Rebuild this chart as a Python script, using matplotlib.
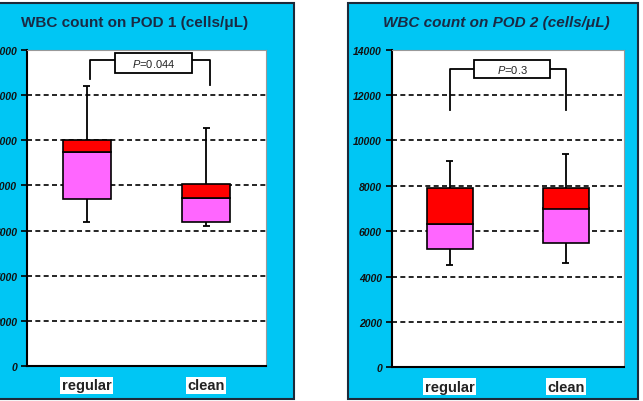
import matplotlib
matplotlib.use("Agg")
import matplotlib.pyplot as plt
from matplotlib.patches import Rectangle

plt.rcParams['font.family'] = ['Liberation Sans', 'DejaVu Sans']
plt.rcParams['mathtext.fontset'] = 'custom'
plt.rcParams['mathtext.it'] = 'Liberation Sans:italic'
plt.rcParams['mathtext.rm'] = 'Liberation Sans'

categories = ["regular", "clean"]
yticks = [0, 2000, 4000, 6000, 8000, 10000, 12000, 14000]

# POD 1
pod1_low = [6400, 6200]
pod1_q1 = [7400, 6400]
pod1_med = [9500, 7450]
pod1_q3 = [10000, 8050]
pod1_high = [12400, 10550]
pod1_p = "0.044"

# POD 2
pod2_low = [4500, 4600]
pod2_q1 = [5200, 5500]
pod2_med = [6300, 7000]
pod2_q3 = [7900, 7900]
pod2_high = [9100, 9400]
pod2_p = "0.3"

CYAN = '#00C6F4'
BORDER = '#1c2a3a'
MAG = '#FF66FF'
RED = '#FF0000'
TITLE_C = '#1a2a44'

W, H = 643, 402
fig = plt.figure(figsize=(W / 100, H / 100), dpi=100)
fig.patch.set_facecolor('white')


def px(x0, y0, x1, y1):
    return [x0 / W, 1 - y1 / H, (x1 - x0) / W, (y1 - y0) / H]


# cyan panels
for (x0, x1) in [(-3, 293.5), (348, 638)]:
    r = px(x0, 4, x1, 400)
    fig.patches.append(Rectangle((r[0], r[1]), r[2], r[3], transform=fig.transFigure,
                                 facecolor=CYAN, edgecolor=BORDER, lw=1.5, zorder=-5))


def panel(rect, title, title_x, italic_title, low, q1, med, q3, high, ptxt,
          legs, leg_bottoms, bracket_top, pbox):
    ax = fig.add_axes(px(*rect))
    ax.set_zorder(5)
    ax.set_facecolor('white')
    pos = list(range(len(categories)))
    ax.set_xlim(-0.5, 1.5)
    ax.set_ylim(0, 14000)
    ax.set_yticks(yticks)
    ax.set_yticklabels([str(v) for v in yticks], fontsize=7.5, fontweight='bold',
                       fontstyle='italic', color='#111111')
    ax.set_xticks(pos)
    ax.set_xticklabels(categories, fontsize=10.5, fontweight='bold', color='#222222')
    for lab in ax.get_xticklabels():
        lab.set_bbox(dict(facecolor='white', edgecolor='none', pad=1))
    ax.tick_params(axis='x', length=0, pad=9)
    ax.tick_params(axis='y', length=4, width=1.2, pad=3, direction='out')
    for s in ['top', 'right']:
        ax.spines[s].set_color('#999999')
        ax.spines[s].set_linewidth(0.8)
    for s in ['left', 'bottom']:
        ax.spines[s].set_color('black')
        ax.spines[s].set_linewidth(1.5)
    for v in yticks[1:-1]:
        ax.axhline(v, color='black', lw=1.2, ls=(0, (3, 2)), zorder=1)
    width = 0.4
    lowers = [m - a for m, a in zip(med, q1)]
    uppers = [b - m for m, b in zip(med, q3)]
    ax.bar(pos, lowers, bottom=q1, width=width, color=MAG, edgecolor='black', lw=1.2, zorder=3)
    ax.bar(pos, uppers, bottom=med, width=width, color=RED, edgecolor='black', lw=1.2, zorder=3)
    ax.vlines(pos, q3, high, color='black', lw=1.3, zorder=2)
    ax.vlines(pos, low, q1, color='black', lw=1.3, zorder=2)
    ax.hlines(high, [p - 0.03 for p in pos], [p + 0.03 for p in pos], color='black', lw=1.3, zorder=2)
    ax.hlines(low, [p - 0.03 for p in pos], [p + 0.03 for p in pos], color='black', lw=1.3, zorder=2)
    # bracket
    ax.plot([legs[0], legs[0], legs[1], legs[1]],
            [leg_bottoms[0], bracket_top, bracket_top, leg_bottoms[1]],
            color='black', lw=1.3, zorder=4, clip_on=False)
    bx0, bx1, by0, by1 = pbox
    ax.add_patch(Rectangle((bx0, by0), bx1 - bx0, by1 - by0, facecolor='white',
                           edgecolor='black', lw=1.3, zorder=5, clip_on=False))
    ax.text((bx0 + bx1) / 2, (by0 + by1) / 2, r"$\it{P}$=" + ptxt, ha='center', va='center',
            fontsize=8, color='#222222', zorder=6)
    fig.text(title_x / W, 1 - 23 / H, title, ha='center', va='center', fontsize=11,
             fontweight='bold', fontstyle='italic' if italic_title else 'normal', color=TITLE_C)
    return ax


panel((27, 51, 266, 367), "WBC count on POD 1 (cells/\u03bcL)", 135, False,
      pod1_low, pod1_q1, pod1_med, pod1_q3, pod1_high, pod1_p,
      (0.025, 1.03), (12700, 12450), 13570, (0.236, 0.881, 12980, 13870))
panel((391.7, 50.7, 624, 368.3), "WBC count on POD 2 (cells/\u03bcL)", 496, True,
      pod2_low, pod2_q1, pod2_med, pod2_q3, pod2_high, pod2_p,
      (0.0, 1.0), (11320, 11320), 13130, (0.209, 0.863, 12740, 13560))

fig.savefig("out.png", dpi=100)
